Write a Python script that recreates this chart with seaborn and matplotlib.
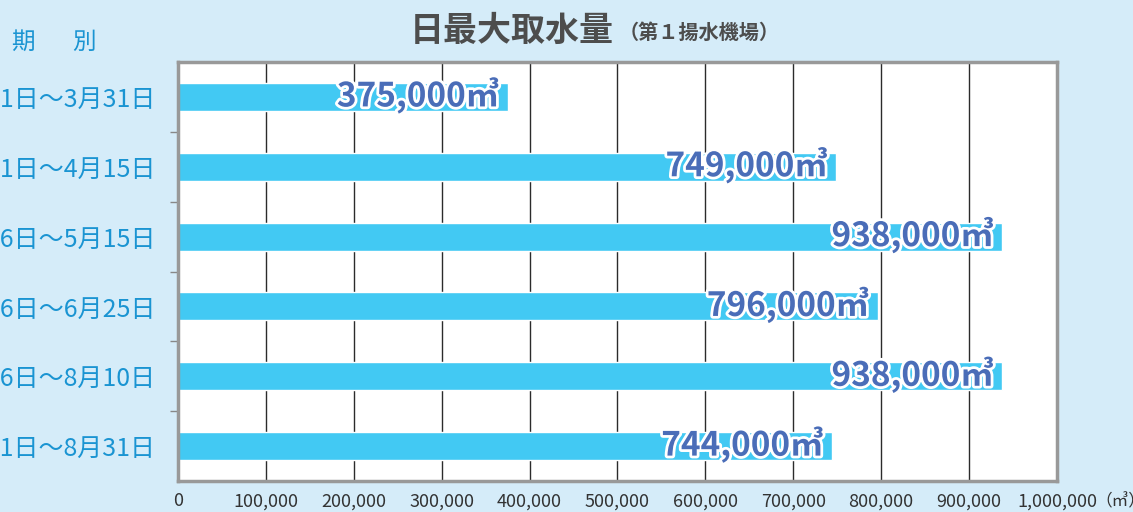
import pandas as pd
import matplotlib.pyplot as plt
import matplotlib.patheffects as pe
import seaborn as sns

# Data
periods = ["3月1日～3月31日", "4月1日～4月15日", "4月16日～5月15日",
           "5月16日～6月25日", "6月26日～8月10日", "8月11日～8月31日"]
intake = [375000, 749000, 938000, 796000, 938000, 744000]
xticks = [0, 100000, 200000, 300000, 400000, 500000, 600000, 700000, 800000, 900000, 1000000]
xtick_labels = ["0", "100,000", "200,000", "300,000", "400,000", "500,000",
                "600,000", "700,000", "800,000", "900,000", "1,000,000"]

df = pd.DataFrame({"期別": periods, "取水量": intake})

BG = "#d5ecf9"
BAR = "#42c9f3"
LABEL_BLUE = "#4a6db8"
TICK_BLUE = "#1a94d2"

sns.set_style("white")
plt.rcParams['font.family'] = ['Noto Sans CJK JP', 'DejaVu Sans']

fig = plt.figure(figsize=(11.33, 5.12), dpi=100, facecolor=BG)
ax = fig.add_axes([0.1571, 0.0605, 0.7758, 0.8184])
ax.set_facecolor("white")

sns.barplot(data=df, x="取水量", y="期別", orient="h", color=BAR,
            width=0.4, saturation=1, ax=ax)

ax.set_xlim(0, 1000000)
ax.set_ylim(5.5, -0.5)
ax.set_xticks(xticks)
ax.set_xticklabels(xtick_labels, fontsize=13, color="#333333")
ax.tick_params(axis="x", length=0, pad=8)
ax.tick_params(axis="y", which="major", length=0, pad=16, labelsize=18,
               labelcolor=TICK_BLUE)
ax.set_yticks([0.5, 1.5, 2.5, 3.5, 4.5], minor=True)
ax.tick_params(axis="y", which="minor", length=6, width=1, color="#888888",
               direction="out", left=True)
ax.set_xlabel("")
ax.set_ylabel("")

# vertical grid
ax.xaxis.grid(True, color="#2b2b2b", linewidth=1)
ax.yaxis.grid(False)
ax.set_axisbelow(True)

for s in ax.spines.values():
    s.set_visible(True)
    s.set_color("#999999")
    s.set_linewidth(2.5)

# value labels
for i, v in enumerate(intake):
    ax.annotate(f"{v:,}㎥", xy=(v, i), xytext=(-6, 1), textcoords="offset points",
                ha="right", va="center", fontsize=24, fontweight="bold",
                color=LABEL_BLUE,
                path_effects=[pe.withStroke(linewidth=4, foreground="white")])

# unit after last tick
ax.annotate("（㎥）", xy=(1.0, 0), xycoords="axes fraction", xytext=(28, -9),
            textcoords="offset points", ha="left", va="top", fontsize=12,
            color="#333333", annotation_clip=False)

# titles
fig.text(0.362, 0.941, "日最大取水量", fontsize=24.5, fontweight="bold",
         color="#4d4d4d", ha="left", va="center")
fig.text(0.546, 0.937, "（第１揚水機場）", fontsize=14.5, fontweight="bold",
         color="#4d4d4d", ha="left", va="center")
fig.text(0.010, 0.918, "期", fontsize=17, color=TICK_BLUE, ha="left", va="center")
fig.text(0.064, 0.918, "別", fontsize=17, color=TICK_BLUE, ha="left", va="center")

fig.savefig("out.png", dpi=100, facecolor=BG)
